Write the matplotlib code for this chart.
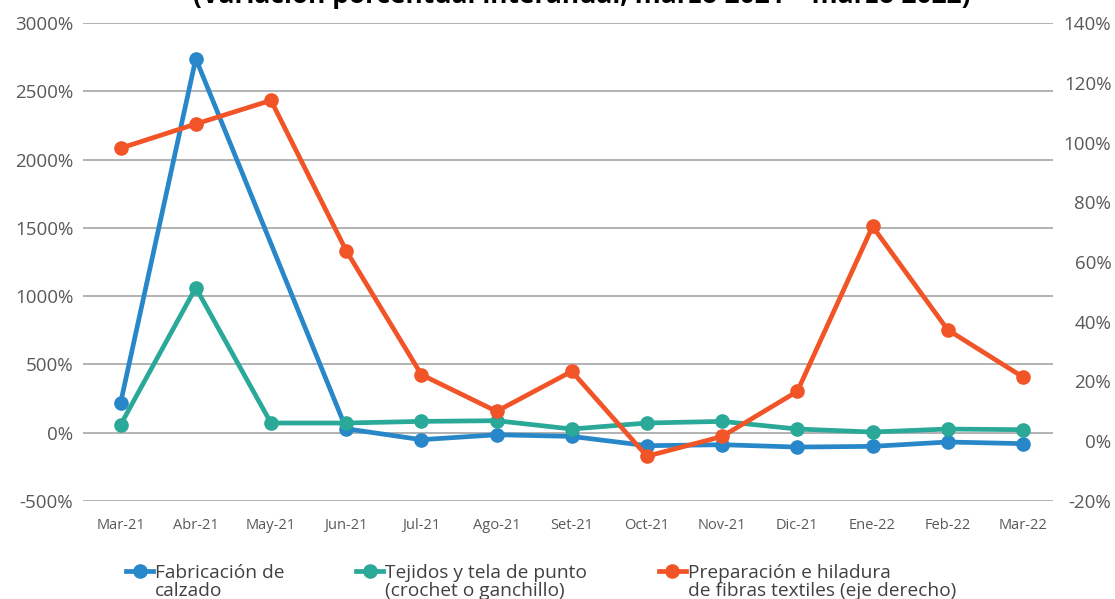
import matplotlib
matplotlib.use("Agg")
import matplotlib.pyplot as plt
import numpy as np

plt.rcParams['font.family'] = ['Open Sans', 'DejaVu Sans']

months = ["Mar-21", "Abr-21", "May-21", "Jun-21", "Jul-21", "Ago-21", "Set-21",
          "Oct-21", "Nov-21", "Dic-21", "Ene-22", "Feb-22", "Mar-22"]

calzado = [219, 2739, None, 29, -51, -15, -27, -95, -88, -105, -100, -68, -80]
tejidos = [58, 1062, 71, 71, 83, 88, 27, 71, 83, 27, 5, 27, 22]
hiladura = [98.1, 106.2, 114.1, 63.8, 22.3, 10.0, 23.4, -5.0, 1.6, 16.7, 71.9, 37.3, 21.5]

left_ticks = [-500, 0, 500, 1000, 1500, 2000, 2500, 3000]
right_ticks = [-20, 0, 20, 40, 60, 80, 100, 120, 140]

lbl_calzado = "Fabricación de\ncalzado"
lbl_tejidos = "Tejidos y tela de punto\n(crochet o ganchillo)"
lbl_hiladura = "Preparación e hiladura\nde fibras textiles (eje derecho)"
title = "(Variación porcentual interanual, marzo 2021 – marzo 2022)"

c_blue = "#2787c9"
c_teal = "#2aa898"
c_orange = "#f15427"
tick_color = "#595959"

fig = plt.figure(figsize=(11.15, 5.99), dpi=100)
W, H = 1115, 599
ax = fig.add_axes([83 / W, 1 - 501 / H, (1053 - 83) / W, (501 - 23) / H])
ax2 = ax.twinx()

x = np.arange(len(months))
cx = [i for i, v in zip(x, calzado) if v is not None]
cy = [v for v in calzado if v is not None]

lw = 3.4
ms = 9.5
l1, = ax.plot(cx, cy, color=c_blue, lw=lw, marker='o', ms=ms, label=lbl_calzado, zorder=3)
l2, = ax.plot(x, tejidos, color=c_teal, lw=lw, marker='o', ms=ms, label=lbl_tejidos, zorder=4)
l3, = ax2.plot(x, hiladura, color=c_orange, lw=lw, marker='o', ms=ms, label=lbl_hiladura, zorder=5)

ax.set_xlim(-0.5, 12.4)
ax.set_ylim(-500, 3000)
ax2.set_ylim(-20, 140)
ax.set_yticks(left_ticks)
ax.set_yticklabels([f"{v}%" for v in left_ticks])
ax2.set_yticks(right_ticks)
ax2.set_yticklabels([f"{v}%" for v in right_ticks])
ax.set_xticks(x)
ax.set_xticklabels(months)

ax.grid(axis='y', color='#a6a6a6', lw=1.2)
ax.set_axisbelow(True)
for a in (ax, ax2):
    for s in a.spines.values():
        s.set_visible(False)

ax.tick_params(axis='y', length=0, pad=7, labelsize=13.5, labelcolor=tick_color)
ax.tick_params(axis='x', length=0, pad=12, labelsize=10.5, labelcolor=tick_color)
ax2.tick_params(axis='y', length=0, pad=42, labelsize=13.5, labelcolor=tick_color)
for t in ax2.get_yticklabels():
    t.set_ha('right')

fig.text(582 / W, 1 - 3 / H, title, ha='center', va='baseline',
         fontsize=19, fontweight='bold', color='black')

leg = fig.legend(handles=[l1, l2, l3], loc='lower left', bbox_to_anchor=(109 / W, -18 / H),
                 ncol=3, frameon=False, fontsize=13.8, handlelength=1.4,
                 handletextpad=0.1, columnspacing=3.75, labelcolor='#404040',
                 labelspacing=0)
for t in leg.get_texts():
    t.set_linespacing(0.95)
for col in leg._legend_handle_box.get_children():
    for hp in col.get_children():
        hp.align = "top"

fig.savefig("out.png", dpi=100)
